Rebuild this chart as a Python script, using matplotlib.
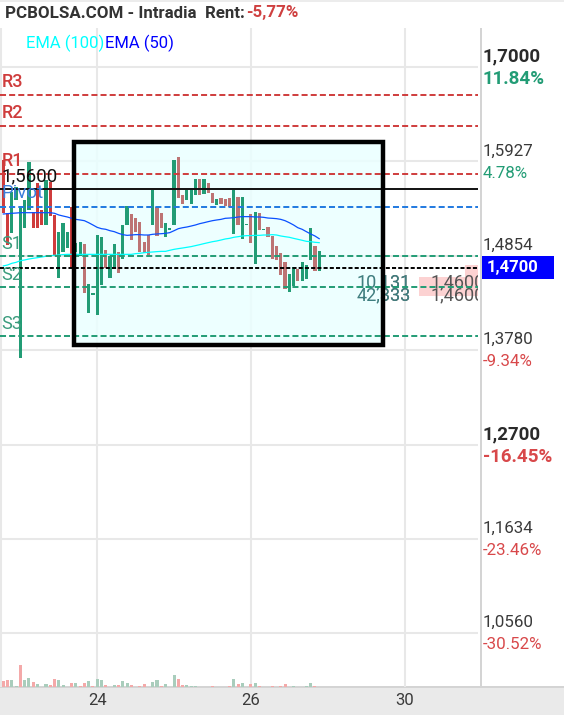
import numpy as np
import matplotlib
matplotlib.use("Agg")
import matplotlib.pyplot as plt
from matplotlib.patches import Rectangle

plt.rcParams['font.family'] = ['Roboto', 'DejaVu Sans']

# candles, top and bottom of each bar, 1 = up (green) 0 = down (red)
highs = [1.5942, 1.5336, 1.5582, 1.5640, 1.5392, 1.5487, 1.5923, 1.5354, 1.5677, 1.5373, 1.5715, 1.5696,
         1.5317, 1.5127, 1.5222, 1.5127, 1.5404, 1.5000, 1.5013, 1.4983, 1.4532, 1.4426, 1.5085, 1.5063,
         1.4919, 1.4850, 1.4983, 1.4900, 1.5203, 1.5419, 1.5324, 1.5279, 1.5241, 1.5013, 1.5089, 1.5601,
         1.5411, 1.5336, 1.5222, 1.5165, 1.5942, 1.5972, 1.5544, 1.5601, 1.5608, 1.5722, 1.5722, 1.5722,
         1.5677, 1.5570, 1.5495, 1.5514, 1.5495, 1.5514, 1.5601, 1.5517, 1.5517, 1.5218, 1.5324, 1.5354,
         1.5336, 1.5161, 1.5176, 1.5082, 1.4964, 1.4881, 1.4782, 1.4646, 1.4722, 1.4706, 1.4782, 1.4748,
         1.5165, 1.4964, 1.4903]
lows = [1.5336, 1.4975, 1.5108, 1.5490, 1.3687, 1.5165, 1.5373, 1.5165, 1.5165, 1.5203, 1.5203, 1.5305,
        1.4850, 1.4604, 1.4900, 1.4937, 1.4710, 1.4900, 1.4850, 1.4433, 1.4206, 1.4411, 1.4176, 1.4521,
        1.4710, 1.4604, 1.4729, 1.4653, 1.4812, 1.5203, 1.5032, 1.5127, 1.4900, 1.4888, 1.4862, 1.5203,
        1.5078, 1.5165, 1.5070, 1.5150, 1.5203, 1.5506, 1.5442, 1.5487, 1.5442, 1.5544, 1.5544, 1.5552,
        1.5563, 1.5449, 1.5430, 1.5442, 1.5419, 1.5404, 1.5101, 1.5203, 1.5044, 1.5203, 1.5002, 1.4759,
        1.5146, 1.5146, 1.5070, 1.4812, 1.4805, 1.4634, 1.4471, 1.4445, 1.4509, 1.4570, 1.4570, 1.4585,
        1.4805, 1.4684, 1.4684]
up = [0, 0, 1, 1, 1, 1, 1, 0, 0, 0, 1, 0, 0, 1, 1, 1, 0, 1, 1, 0, 1, 1, 1, 1, 0,
      1, 1, 0, 1, 1, 0, 0, 0, 0, 0, 1, 0, 0, 1, 1, 1, 0, 0, 1, 1, 1, 0, 1, 0, 0,
      1, 0, 0, 0, 1, 0, 1, 1, 0, 1, 0, 1, 0, 0, 0, 0, 0, 1, 1, 0, 1, 1, 1, 0, 1]

ema50 = [1.5328, 1.5332, 1.5336, 1.5339, 1.5343, 1.5343, 1.5343, 1.5343, 1.5343, 1.5343, 1.5343, 1.5343,
         1.5336, 1.5317, 1.5305, 1.5294, 1.5279, 1.5267, 1.5260, 1.5252, 1.5229, 1.5203, 1.5176, 1.5161,
         1.5154, 1.5138, 1.5127, 1.5108, 1.5093, 1.5085, 1.5089, 1.5093, 1.5093, 1.5089, 1.5089, 1.5097,
         1.5101, 1.5104, 1.5108, 1.5116, 1.5138, 1.5161, 1.5172, 1.5180, 1.5191, 1.5203, 1.5218, 1.5229,
         1.5241, 1.5252, 1.5260, 1.5267, 1.5279, 1.5282, 1.5286, 1.5294, 1.5298, 1.5298, 1.5298, 1.5294,
         1.5294, 1.5290, 1.5282, 1.5279, 1.5275, 1.5267, 1.5252, 1.5229, 1.5203, 1.5172, 1.5154, 1.5127,
         1.5101, 1.5078, 1.5047]
ema100 = [1.4737, 1.4748, 1.4767, 1.4778, 1.4797, 1.4805, 1.4816, 1.4824, 1.4831, 1.4839, 1.4847, 1.4854,
          1.4858, 1.4862, 1.4866, 1.4869, 1.4869, 1.4869, 1.4869, 1.4869, 1.4869, 1.4869, 1.4869, 1.4869,
          1.4869, 1.4869, 1.4869, 1.4869, 1.4869, 1.4869, 1.4869, 1.4877, 1.4881, 1.4888, 1.4892, 1.4896,
          1.4900, 1.4903, 1.4903, 1.4915, 1.4926, 1.4934, 1.4941, 1.4949, 1.4957, 1.4968, 1.4979, 1.4991,
          1.5002, 1.5013, 1.5021, 1.5032, 1.5044, 1.5051, 1.5063, 1.5070, 1.5078, 1.5082, 1.5082, 1.5085,
          1.5085, 1.5089, 1.5089, 1.5093, 1.5089, 1.5078, 1.5070, 1.5063, 1.5051, 1.5040, 1.5029, 1.5017,
          1.5013, 1.5006, 1.5002]

volumes = [18, 22, 22, 4, 67, 22, 28, 15, 8, 0, 10, 6, 25, 22, 6, 0, 13, 13, 4, 13, 19, 4, 25, 22, 6,
           0, 6, 6, 19, 13, 6, 0, 4, 10, 0, 16, 22, 4, 10, 0, 37, 25, 6, 6, 4, 4, 0, 0, 0, 4,
           0, 0, 0, 4, 25, 8, 13, 0, 10, 13, 4, 0, 0, 4, 0, 4, 10, 0, 4, 0, 0, 4, 13, 4, 0]
vol_up = [0, 0, 1, 1, 0, 1, 1, 0, 1, 0, 1, 0, 0, 1, 1, 0, 0, 1, 0, 0, 1, 0, 1, 1, 0,
          0, 1, 0, 1, 1, 0, 0, 0, 0, 0, 1, 1, 0, 1, 0, 1, 0, 0, 1, 1, 1, 0, 0, 0, 0,
          0, 0, 0, 0, 1, 0, 1, 0, 0, 1, 0, 0, 0, 0, 0, 0, 0, 0, 1, 0, 0, 1, 1, 0, 0]

# grid and axis labels
price_ticks = [1.7000, 1.5927, 1.4854, 1.3780, 1.2700, 1.1634, 1.0560]
price_labels = ['1,7000', '1,5927', '1,4854', '1,3780', '1,2700', '1,1634', '1,0560']
pct_labels = ['11.84%', '4.78%', '', '-9.34%', '-16.45%', '-23.46%', '-30.52%']
bold_ticks = [1.7000, 1.2700]
day_ticks = [22.0, 58.0, 94.0]
day_labels = ['24', '26', '30']

# levels
resist = {'R3': 1.668, 'R2': 1.633, 'R1': 1.578}
support = {'S1': 1.485, 'S2': 1.4497, 'S3': 1.394}
pivot = 1.5407
last_close = 1.5610
last_price = 1.4713

# highlighted box
box_x = [16.6, 88.9]
box_y = [1.3837, 1.6147]

RED = '#cf3c3c'
GREEN = '#229c75'
MUTED = '#bd7474'
GREY = '#3a3a3a'
GRID = '#e8e8e8'

W, H = 564, 715
fig = plt.figure(figsize=(W / 100, H / 100), dpi=100, facecolor='white')


def fx(px):
    return px / W


def fy(py):
    return 1 - py / H


# bottom strip and frame lines, behind the axes
for rect in [(0, 0, 1, fy(687), '#eaeaea'),
             (0, fy(688), 1, 2 / H, '#d4d4d4'),
             (fx(480), fy(687), 2 / W, 659 / H, '#d4d4d4'),
             (0, fy(2), 1, 2 / H, '#ececec')]:
    fig.patches.append(Rectangle(rect[:2], rect[2], rect[3], transform=fig.transFigure,
                                 fc=rect[4], ec='none', zorder=-1))

ax = fig.add_axes([0, fy(687), fx(478), (687 - 28) / H])
ax.set_xlim(-0.77, 111.2)
ax.set_ylim(0.9947, 1.7444)
ax.patch.set_alpha(0)
for s in ax.spines.values():
    s.set_visible(False)
ax.set_xticks(day_ticks)
ax.set_xticklabels(day_labels, fontsize=12, color=GREY)
ax.set_yticks([])
ax.tick_params(axis='x', length=0, pad=4)

for p in price_ticks:
    ax.axhline(p, color=GRID, lw=1.5, zorder=1)
for d in day_ticks:
    ax.axvline(d, color=GRID, lw=1.5, zorder=1)
ax.axvline(-0.5, color=GRID, lw=1.5, zorder=1)

# volumes sit on the bottom of the chart
vax = fig.add_axes([0, fy(687), fx(478), 100 / H])
vax.set_xlim(-0.77, 111.2)
vax.set_ylim(0, 300)
vax.axis('off')
idx = np.arange(len(volumes))
vax.bar(idx, volumes, width=0.72, color=['#a9cdbc' if u else '#f4a9a9' for u in vol_up])

# value labels under the box
ax.add_patch(Rectangle((97.3, 1.4396), 14, 0.0216, fc='#fcd2d2', ec='none', zorder=1))
ax.add_patch(Rectangle((108.2, 1.4612), 3, 0.0137, fc='#fcd2d2', ec='none', zorder=1))
for y, txt in [(1.4545, '10,131'), (1.4400, '42,333')]:
    ax.text(82.8, y, txt, fontsize=13, color='#555555', va='center', zorder=1.5)
ax.text(100.0, 1.4545, '1,4600', fontsize=13, color='#555555', va='center', zorder=1.5, clip_on=True)
ax.text(100.0, 1.4400, '1,4600', fontsize=13, color='#555555', va='center', zorder=1.5, clip_on=True)

# box
ax.add_patch(Rectangle((box_x[0], box_y[0]), box_x[1] - box_x[0], box_y[1] - box_y[0],
                       fc='#eaffff', ec='none', alpha=0.85, zorder=2))
box_clip = Rectangle((box_x[0], box_y[0]), box_x[1] - box_x[0], box_y[1] - box_y[0],
                     transform=ax.transData)
for y, txt in [(1.4545, '10,131'), (1.4400, '42,333')]:
    t = ax.text(82.8, y, txt, fontsize=13, color='#3f7f80', va='center', zorder=2.5)
    t.set_clip_path(box_clip)

# candles
x = np.arange(len(highs))
colors = []
for i in range(len(highs)):
    if up[i]:
        colors.append(GREEN)
    elif box_x[0] < i < box_x[1]:
        colors.append(MUTED)
    else:
        colors.append(RED)
ax.bar(x, np.array(highs) - np.array(lows), bottom=lows, width=0.75, color=colors, zorder=3)

ax.plot(x, ema100, color='#00ffff', lw=0.9, zorder=3.5)
ax.plot(x, ema50, color='#0a50ff', lw=0.9, zorder=3.5)

# level lines and names
dash = (0, (3.1, 1.6))
for name, val in resist.items():
    ax.axhline(val, color=RED, lw=1.4, ls=dash, zorder=4)
    ax.annotate(name, (0, val), xycoords=('axes fraction', 'data'), xytext=(1.2, 3), textcoords='offset points',
                color=RED, fontsize=13, va='bottom', zorder=6, fontweight='medium')
ax.axhline(pivot, color='#2079e0', lw=1.4, ls=dash, zorder=4)
ax.annotate('Pivot', (0, pivot), xycoords=('axes fraction', 'data'), xytext=(1.2, 3.5), textcoords='offset points',
            color='#3a7fdc', fontsize=13.5, va='bottom', zorder=6)
for name, val in support.items():
    ax.annotate(name, (0, val), xycoords=('axes fraction', 'data'), xytext=(1.2, 2.5), textcoords='offset points',
                color='#3b9c7d', fontsize=13, va='bottom', zorder=6)
    ax.axhline(val, color=GREEN, lw=1.4, ls=dash, zorder=4)
ax.axhline(last_close, color='#111111', lw=1.4, zorder=4)
ax.annotate('1,5600', (0, last_close), xycoords=('axes fraction', 'data'), xytext=(1.2, 3), textcoords='offset points',
            color='#111111', fontsize=13.5, va='bottom', zorder=6)
ax.axhline(last_price, color='black', lw=1.4, ls=(0, (2.1, 1.1)), zorder=4)

# box border
ax.add_patch(Rectangle((box_x[0], box_y[0]), box_x[1] - box_x[0], box_y[1] - box_y[0],
                       fc='none', ec='black', lw=3.2, zorder=5, joinstyle='miter'))

# price scale on the right
for p, lab, pct in zip(price_ticks, price_labels, pct_labels):
    bold = p in bold_ticks
    ax.annotate(lab, (1, p), xycoords=('axes fraction', 'data'), xytext=(3.6, 7.5), textcoords='offset points',
                va='center', fontsize=13.5 if bold else 12.2, color='#2a2a2a' if bold else GREY,
                fontweight='bold' if bold else 'normal', annotation_clip=False)
    if pct:
        col = GREEN if not pct.startswith('-') else '#d8484a'
        ax.annotate(pct, (1, p), xycoords=('axes fraction', 'data'), xytext=(3.6, -8.5), textcoords='offset points',
                    va='center', fontsize=13.5 if bold else 12.2, color=col,
                    fontweight='bold' if bold else 'normal', annotation_clip=False)

fig.patches.append(Rectangle((fx(482), fy(279)), 72 / W, 23 / H, transform=fig.transFigure,
                             fc='#0000ff', ec='none', zorder=1))
fig.text(fx(487), fy(267.5), '1,4700', color='white', fontsize=12, fontweight='bold', va='center')

# header
fig.text(fx(5), fy(13), 'PCBOLSA.COM - Intradia  Rent:', color='#333333', fontsize=12.2, fontweight='bold', va='center')
fig.text(fx(246), fy(13), '-5,77%', color='#cf4040', fontsize=12.2, fontweight='bold', va='center')
fig.text(fx(26), fy(43), 'EMA (100)', color='#00ffff', fontsize=12, va='center')
fig.text(fx(105), fy(43), 'EMA (50)', color='#0000ff', fontsize=12, va='center')

fig.savefig('out.png', dpi=100)
